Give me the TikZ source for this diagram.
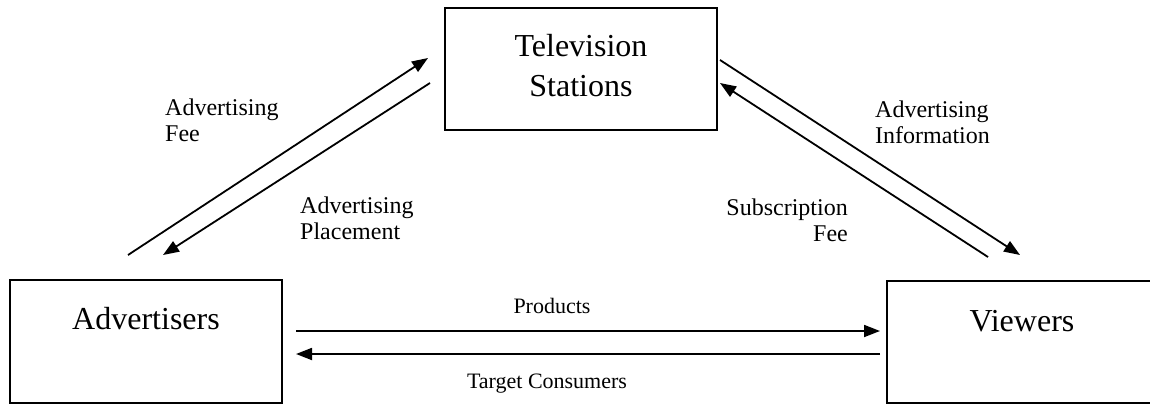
\documentclass[tikz,border=0pt]{standalone}
\usepackage{fontspec}
\setmainfont{Liberation Serif}
\usetikzlibrary{arrows.meta}
\begin{document}
\begin{tikzpicture}[x=1pt,y=-1pt,
  box/.style={draw, line width=2pt, minimum width=272pt, minimum height=123pt, inner sep=0pt},
  big/.style={font=\fontsize{32}{40}\selectfont, align=center, inner sep=0pt},
  lab/.style={font=\fontsize{24}{26}\selectfont, inner sep=0pt},
  blab/.style={font=\fontsize{22}{26}\selectfont, inner sep=0pt},
  conn/.style={line width=1.8pt, -{Triangle[length=16pt,width=12pt]}}]
\useasboundingbox (0,0) rectangle (1150,404);
% boxes
\node[box, minimum height=122pt] (tv) at (581,69) {};
\node[big] (tvt) at (581,66) {Television\\Stations};
\node[box] (adv) at (146,341) {};
\node[big] (advt) at (146,319) {Advertisers};
\node[box, minimum height=122pt] (vw) at (1023,342) {};
\node[big] (vwt) at (1022,321) {Viewers};
% connector end points
\coordinate (af1) at (128,255); \coordinate (af2) at (428,58);
\coordinate (ap1) at (430,83);  \coordinate (ap2) at (163,255);
\coordinate (ai1) at (720,60);  \coordinate (ai2) at (1020,255);
\coordinate (sf1) at (988,257); \coordinate (sf2) at (720,83);
\coordinate (p1) at (296,331);  \coordinate (p2) at (880,331);
\coordinate (t1) at (880,354);  \coordinate (t2) at (296,354);
% connectors
\draw[conn] (af1) -- (af2);
\draw[conn] (ap1) -- (ap2);
\draw[conn] (ai1) -- (ai2);
\draw[conn] (sf1) -- (sf2);
\draw[conn] (p1) -- (p2);
\draw[conn] (t1) -- (t2);
% labels
\node[lab, anchor=north west, align=left] (lfee) at (165,99) {Advertising\\Fee};
\node[lab, anchor=north west, align=left] (lpl) at (300,197) {Advertising\\Placement};
\node[lab, anchor=north west, align=left] (lai) at (875,101) {Advertising\\Information};
\node[lab, anchor=north east, align=right] (lsf) at (848,199) {Subscription\\Fee};
\node[blab, anchor=base] (lprod) at (552,313) {Products};
\node[blab, anchor=base] (ltc) at (547,388) {Target Consumers};
\end{tikzpicture}
\end{document}
